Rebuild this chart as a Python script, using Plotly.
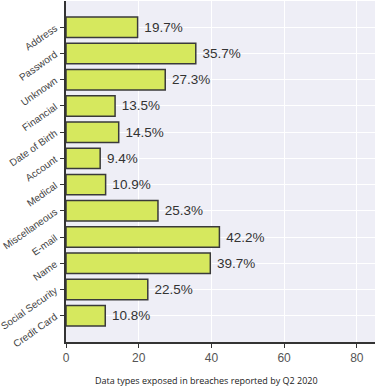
import plotly.graph_objects as go

categories = ["Credit Card", "Social Security", "Name", "E-mail", "Miscellaneous",
              "Medical", "Account", "Date of Birth", "Financial", "Unknown",
              "Password", "Address"]
values = [10.8, 22.5, 39.7, 42.2, 25.3, 10.9, 9.4, 14.5, 13.5, 27.3, 35.7, 19.7]
labels = [f"{v}%" for v in values]
x_ticks = [0, 20, 40, 60, 80]

fig = go.Figure(go.Bar(
    y=categories, x=values, orientation="h",
    text=labels, texttemplate=" %{text}", textposition="outside", cliponaxis=False,
    textfont=dict(size=13.5, color="#333333", family="Liberation Sans, Arial"),
    marker=dict(color="#d6e85e", line=dict(color="#3a3a3a", width=1.5)),
    width=0.78,
))

fig.update_layout(
    width=382, height=387,
    margin=dict(l=66, r=7, t=1, b=45),
    paper_bgcolor="white", plot_bgcolor="#eeeef6",
    showlegend=False,
    font=dict(family="Liberation Sans, Arial", color="#444444"),
)
fig.update_xaxes(
    range=[0, 85], tickvals=x_ticks, showgrid=True, gridcolor="white", gridwidth=1,
    showline=True, linecolor="#333333", linewidth=1.5, ticks="outside", ticklen=4,
    tickcolor="#333333", tickfont=dict(size=12, color="#555555"), zeroline=False,
    automargin=False,
)
fig.update_yaxes(
    categoryorder="array", categoryarray=categories, range=[-1, 12],
    showgrid=True, gridcolor="white", gridwidth=1,
    showline=True, linecolor="#333333", linewidth=1.5, ticks="outside", ticklen=4,
    tickcolor="#333333", tickangle=-35, tickfont=dict(size=10, color="#444444"),
    ticklabelstandoff=3, automargin=False,
)
fig.add_annotation(
    text="Data types exposed in breaches reported by Q2 2020",
    xref="paper", yref="paper", x=(206 - 66) / 309, y=0, yshift=-38,
    xanchor="center", yanchor="middle", showarrow=False,
    font=dict(size=9, color="#222222", family="Open Sans, DejaVu Sans"),
)
fig.write_html("out.html", config={"displayModeBar": False},
               post_script="document.body.style.margin='0';")
